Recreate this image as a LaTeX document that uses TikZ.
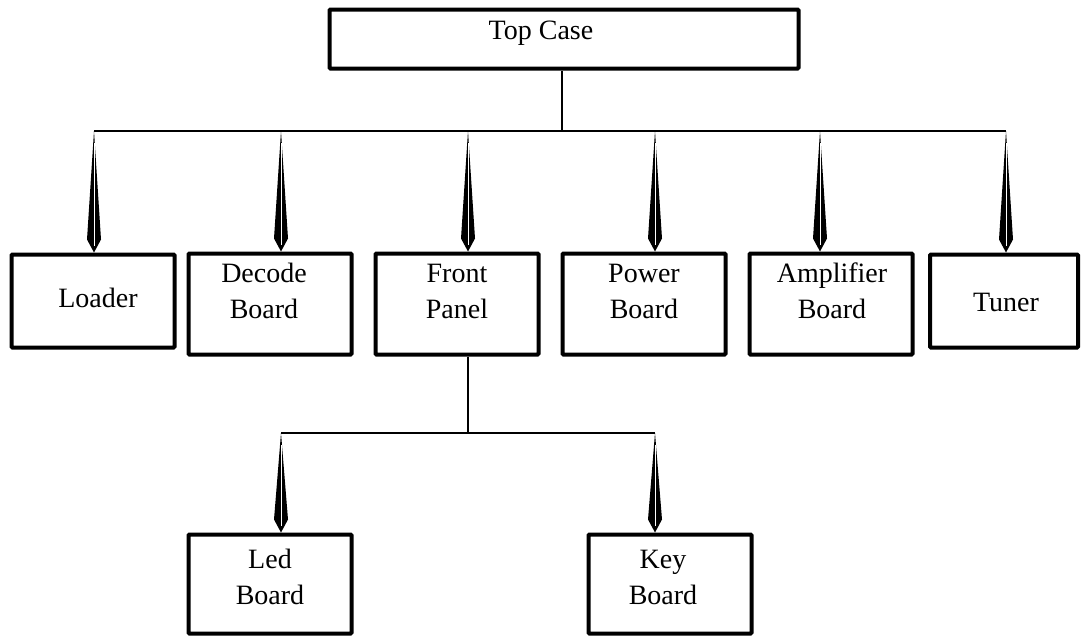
\documentclass[tikz,border=0pt]{standalone}
\usepackage{fontspec}
\setmainfont{Liberation Serif}
\usetikzlibrary{calc}
\tikzset{
  box/.style={draw, line width=4pt, rounded corners=1pt, minimum width=163, minimum height=101},
  lbl/.style={font=\fontsize{28}{36}\selectfont, align=center, inner sep=0pt},
  wire/.style={line width=1.5pt},
}
% long spear-shaped arrow from #1 down to #2
\newcommand{\spear}[2]{%
  \fill (#1) -- ($(#2)+(7,-13)$) -- (#2) -- ($(#2)+(-7,-13)$) -- cycle;
  \draw[white, line width=1pt] ($(#1)+(0,12)$) -- ($(#2)+(0,-7)$);
}
\begin{document}
\begin{tikzpicture}[x=1pt, y=-1pt]
  \useasboundingbox (0,0) rectangle (1081,637);
  % boxes
  \node[box, minimum width=469, minimum height=59] (top) at (564,39) {};
  \node[box, minimum height=93] (loader) at (93,301) {};
  \node[box] (decode) at (270,304) {};
  \node[box] (front) at (457,304) {};
  \node[box] (power) at (644,304) {};
  \node[box] (amp) at (831,304) {};
  \node[box, minimum width=148, minimum height=93] (tuner) at (1004,301) {};
  \node[box, minimum height=99] (led) at (270,584) {};
  \node[box, minimum height=99] (key) at (670,584) {};
  % texts
  \node[lbl] (top-t) at (541,33) {Top Case};
  \node[lbl] (loader-t) at (98,298) {Loader};
  \node[lbl] (decode-t) at (264,291) {Decode\\Board};
  \node[lbl] (front-t) at (457,291) {Front\\Panel};
  \node[lbl] (power-t) at (644,291) {Power\\Board};
  \node[lbl] (amp-t) at (832,291) {Amplifier\\Board};
  \node[lbl] (tuner-t) at (1006,302) {Tuner};
  \node[lbl] (led-t) at (270,577) {Led\\Board};
  \node[lbl] (key-t) at (663,577) {Key\\Board};
  % upper tree
  \coordinate (j0) at (562,131);
  \coordinate (b1) at (94,131);
  \coordinate (b2) at (281,131);
  \coordinate (b3) at (468,131);
  \coordinate (b4) at (655,131);
  \coordinate (b5) at (820,131);
  \coordinate (b6) at (1006,131);
  \draw[wire] (top.south -| j0) -- (j0);
  \draw[wire] (b1) -- (b6);
  \coordinate (t1) at (loader.north -| b1);
  \coordinate (t2) at (decode.north -| b2);
  \coordinate (t3) at (front.north -| b3);
  \coordinate (t4) at (power.north -| b4);
  \coordinate (t5) at (amp.north -| b5);
  \coordinate (t6) at (tuner.north -| b6);
  \spear{b1}{t1}
  \spear{b2}{t2}
  \spear{b3}{t3}
  \spear{b4}{t4}
  \spear{b5}{t5}
  \spear{b6}{t6}
  % lower tree
  \coordinate (j1) at (468,433);
  \coordinate (c1) at (281,433);
  \coordinate (c2) at (655,433);
  \draw[wire] (front.south -| j1) -- (j1);
  \draw[wire] (c1) -- (c2);
  \coordinate (u1) at (led.north -| c1);
  \coordinate (u2) at (key.north -| c2);
  \spear{c1}{u1}
  \spear{c2}{u2}
\end{tikzpicture}
\end{document}
